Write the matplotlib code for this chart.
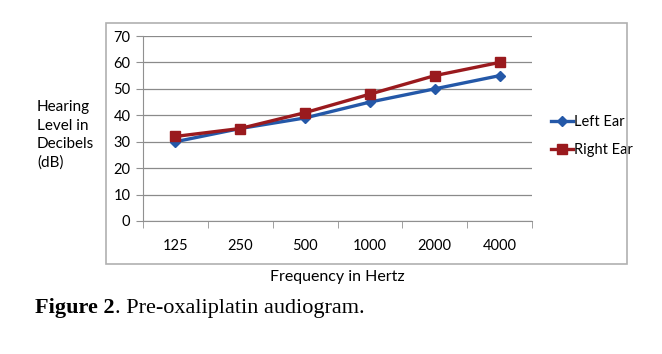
import matplotlib
matplotlib.use("Agg")
import matplotlib.pyplot as plt
from matplotlib.patches import Rectangle
import numpy as np

freqs = ["125", "250", "500", "1000", "2000", "4000"]
left_ear = [30, 35, 39, 45, 50, 55]
right_ear = [32, 35, 41, 48, 55, 60]
yticks = [0, 10, 20, 30, 40, 50, 60, 70]

plt.rcParams["font.family"] = ["Lato", "DejaVu Sans"]

W, H = 662, 354
fig = plt.figure(figsize=(W / 100, H / 100), dpi=100)
fig.patch.set_facecolor("white")

# outer chart frame
fig.patches.append(Rectangle((106 / W, 1 - 264 / H), (627 - 106) / W, (264 - 23) / H,
                             transform=fig.transFigure, fill=False,
                             edgecolor="#b0b0b0", linewidth=1.2))

ax = fig.add_axes([143 / W, 1 - 221 / H, (532 - 143) / W, (221 - 36) / H])
x = np.arange(len(freqs))
ax.plot(x, left_ear, color="#2458a8", linewidth=2.4, marker="D", markersize=5,
        label="Left Ear")
ax.plot(x, right_ear, color="#9a1a1e", linewidth=2.4, marker="s", markersize=7,
        label="Right Ear")

ax.set_xlim(-0.5, len(freqs) - 0.5)
ax.set_ylim(0, 70)
ax.set_yticks(yticks)
ax.set_yticklabels([str(v) for v in yticks], fontsize=10.5)
ax.set_xticks(x)
ax.set_xticklabels(freqs, fontsize=10.5)
ax.set_xticks(np.arange(-0.5, len(freqs)), minor=True)
ax.tick_params(axis="x", which="major", length=0, pad=13)
ax.tick_params(axis="x", which="minor", length=5, color="#909090")
ax.tick_params(axis="y", length=5, color="#909090", pad=4)
ax.grid(axis="y", color="#8a8a8a", linewidth=0.9)
ax.set_axisbelow(True)
for s in ["top", "right"]:
    ax.spines[s].set_visible(False)
for s in ["left", "bottom"]:
    ax.spines[s].set_color("#909090")

ax.set_xlabel("Frequency in Hertz", fontsize=11.5, labelpad=12)

fig.text(37 / W, 1 - 135 / H, "Hearing\nLevel in\nDecibels\n(dB)", fontsize=11,
         ha="left", va="center", linespacing=1.4)

ax.legend(loc="center left", bbox_to_anchor=(538 / W, 1 - 136 / H),
          bbox_transform=fig.transFigure, frameon=False, fontsize=10.5,
          handlelength=1.5, handletextpad=0.1, labelspacing=1.0)

# caption: bold part then regular part
t1 = fig.text(35 / W, 1 - 308 / H, "Figure 2", fontsize=16, weight="bold",
              family="Liberation Serif", ha="left", va="center")
ax.annotate(". Pre-oxaliplatin audiogram.", xy=(1, 0.5), xycoords=t1,
            fontsize=16, family="Liberation Serif", ha="left", va="center",
            annotation_clip=False)

fig.savefig("out.png", dpi=100)
